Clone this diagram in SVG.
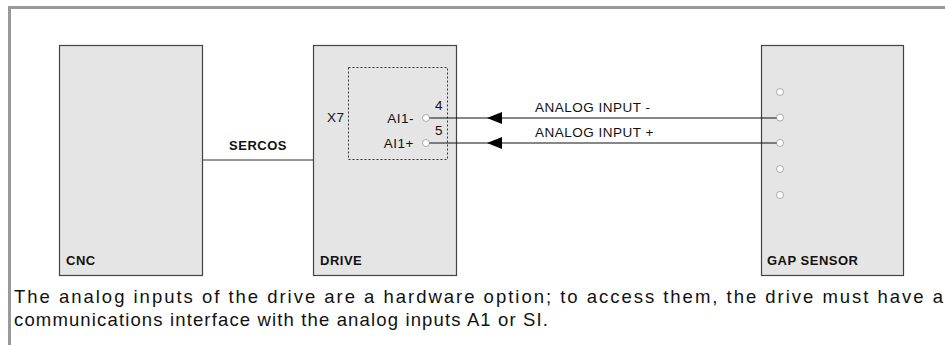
<svg xmlns="http://www.w3.org/2000/svg" width="945" height="345" viewBox="0 0 945 345">
<defs>
<style>
.box{fill:#e5e5e5;stroke:#444;stroke-width:1.2}
.lbl{font-family:"Liberation Sans",Arial,sans-serif;font-weight:bold;font-size:13px;letter-spacing:0.5px;fill:#111}
.t{font-family:"Liberation Sans",Arial,sans-serif;font-size:13.5px;letter-spacing:0.5px;fill:#111}
.body{font-family:"Liberation Sans",Arial,sans-serif;font-size:18.5px;fill:#111}
.pin{fill:#fff;stroke:#999;stroke-width:0.8}
.wire{stroke:#111;stroke-width:1.2;fill:none}
.head{fill:#000}
</style>
</defs>
<rect width="945" height="345" fill="#fff"/>
<g id="frame">
<line x1="8" y1="7.5" x2="945" y2="7.5" stroke="#999" stroke-width="3"/>
<line x1="9.5" y1="6" x2="9.5" y2="345" stroke="#999" stroke-width="3"/>
</g>
<g id="cnc">
<rect class="box" x="59.5" y="45.5" width="143" height="230"/>
<text class="lbl" x="66" y="265">CNC</text>
</g>
<g id="drive">
<rect class="box" x="313.5" y="45.5" width="143" height="230"/>
<text class="lbl" x="320" y="265">DRIVE</text>
<rect x="348.5" y="67.5" width="99" height="92" fill="none" stroke="#333" stroke-width="1" stroke-dasharray="2,2"/>
<text class="t" x="327" y="122">X7</text>
<text class="t" x="414" y="123" text-anchor="end">AI1-</text>
<text class="t" x="414" y="148" text-anchor="end">AI1+</text>
<text class="t" x="435" y="110">4</text>
<text class="t" x="435" y="135">5</text>
<circle class="pin" cx="426" cy="118" r="3.5"/>
<circle class="pin" cx="426" cy="143" r="3.5"/>
</g>
<g id="gap-sensor">
<rect class="box" x="761.5" y="45.5" width="142" height="230"/>
<text class="lbl" x="767" y="265">GAP SENSOR</text>
<circle class="pin" cx="780" cy="92" r="3.5"/>
<circle class="pin" cx="780" cy="117.5" r="3.5"/>
<circle class="pin" cx="780" cy="143" r="3.5"/>
<circle class="pin" cx="780" cy="169" r="3.5"/>
<circle class="pin" cx="780" cy="195" r="3.5"/>
</g>
<g id="connectors">
<line x1="202.5" y1="160" x2="313.5" y2="160" stroke="#333" stroke-width="1"/>
<text class="lbl" x="258" y="150" text-anchor="middle">SERCOS</text>
<line class="wire" x1="429.5" y1="118" x2="776.5" y2="118"/>
<line class="wire" x1="429.5" y1="143" x2="776.5" y2="143"/>
<path class="head" d="M487,118 L502,112 L502,124 Z"/>
<path class="head" d="M487,143 L502,137 L502,149 Z"/>
<text class="t" x="535" y="112">ANALOG INPUT -</text>
<text class="t" x="535" y="137">ANALOG INPUT +</text>
</g>
<g id="caption">
<text class="body" x="14" y="303" textLength="929" lengthAdjust="spacing">The analog inputs of the drive are a hardware option; to access them, the drive must have a</text>
<text class="body" x="14" y="326" textLength="534" lengthAdjust="spacing">communications interface with the analog inputs A1 or SI.</text>
</g>
</svg>
